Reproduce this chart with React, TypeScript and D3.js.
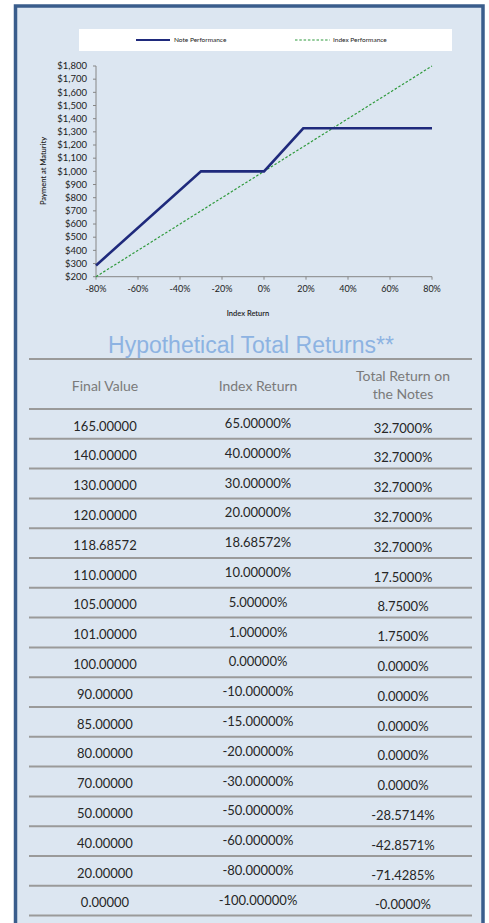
import React from "react";
import * as d3 from "d3";

// chart series: index return -> payment at maturity
const noteReturns = [-0.8, -0.3, 0, 0.1868572, 0.8];
const notePayments = [285.71, 1000, 1000, 1327, 1327];
const indexReturns = [-0.8, 0.8];
const indexPayments = [200, 1800];

const yTicks = [200, 300, 400, 500, 600, 700, 800, 900, 1000, 1100, 1200, 1300, 1400, 1500, 1600, 1700, 1800];
const xTicks = [-0.8, -0.6, -0.4, -0.2, 0, 0.2, 0.4, 0.6, 0.8];

// table
const headers = ["Final Value", "Index Return", "Total Return on|the Notes"];
const finalValues = ["165.00000", "140.00000", "130.00000", "120.00000", "118.68572", "110.00000", "105.00000", "101.00000", "100.00000", "90.00000", "85.00000", "80.00000", "70.00000", "50.00000", "40.00000", "20.00000", "0.00000"];
const indexReturnText = ["65.00000%", "40.00000%", "30.00000%", "20.00000%", "18.68572%", "10.00000%", "5.00000%", "1.00000%", "0.00000%", "-10.00000%", "-15.00000%", "-20.00000%", "-30.00000%", "-50.00000%", "-60.00000%", "-80.00000%", "-100.00000%"];
const noteReturnText = ["32.7000%", "32.7000%", "32.7000%", "32.7000%", "32.7000%", "17.5000%", "8.7500%", "1.7500%", "0.0000%", "0.0000%", "0.0000%", "0.0000%", "0.0000%", "-28.5714%", "-42.8571%", "-71.4285%", "-0.0000%"];

const W = 489;
const H = 923;

const App = () => {
  const x = d3.scaleLinear().domain([-0.8, 0.8]).range([96, 432]);
  const y = d3.scaleLinear().domain([200, 1800]).range([276.7, 66]);

  const line = d3
    .line<[number, number]>()
    .x((d) => x(d[0]))
    .y((d) => y(d[1]));

  const notePts = noteReturns.map((r, i) => [r, notePayments[i]] as [number, number]);
  const indexPts = indexReturns.map((r, i) => [r, indexPayments[i]] as [number, number]);

  const dollar = d3.format("$,");
  const pct = (v: number) => `${Math.round(v * 100)}%`;

  const tableTop = 409;
  const rowH = 29.8;
  const colX = [105, 258, 403];
  const colDy = [21.5, 19, 23.5];
  const columns = [finalValues, indexReturnText, noteReturnText];

  return (
    <svg width={W} height={H} style={{ position: "absolute", left: 0, top: 0, display: "block" }}>
      <rect x={0} y={0} width={W} height={H} fill="#ffffff" />
      {/* panel */}
      <rect x={15.5} y={6} width={467.5} height={H} fill="#dce6f1" stroke="#3a5d8c" strokeWidth={3.5} />

      {/* legend */}
      <rect x={79} y={29} width={373} height={22} fill="#ffffff" />
      <line x1={136} x2={170} y1={40} y2={40} stroke="#1f2a7c" strokeWidth={2.2} />
      <text x={174} y={42.3} fontSize={6.5} fontFamily="Lato, sans-serif" fill="#222">Note Performance</text>
      <line x1={295} x2={330} y1={40} y2={40} stroke="#2f9a3c" strokeWidth={1.2} strokeDasharray="2.5,1.8" />
      <text x={333} y={42.3} fontSize={6.5} fontFamily="Lato, sans-serif" fill="#222">Index Performance</text>

      {/* y axis */}
      <line x1={x(-0.8)} x2={x(-0.8)} y1={y(1800)} y2={y(200)} stroke="#868686" strokeWidth={1} />
      {yTicks.map((t) => (
        <g key={t}>
          <line x1={x(-0.8) - 3} x2={x(-0.8)} y1={y(t)} y2={y(t)} stroke="#868686" strokeWidth={1} />
          <text x={87} y={y(t) + 3.3} fontSize={9.5} textAnchor="end" fontFamily="Lato, sans-serif" fill="#222">
            {dollar(t)}
          </text>
        </g>
      ))}
      {/* x axis */}
      <line x1={x(-0.8)} x2={x(0.8)} y1={y(200)} y2={y(200)} stroke="#868686" strokeWidth={1} />
      {xTicks.map((t) => (
        <g key={t}>
          <line x1={x(t)} x2={x(t)} y1={y(200)} y2={y(200) + 3} stroke="#868686" strokeWidth={1} />
          <text x={x(t)} y={292} fontSize={9} textAnchor="middle" fontFamily="Lato, sans-serif" fill="#222">
            {pct(t)}
          </text>
        </g>
      ))}
      <text x={248} y={316} fontSize={7.5} fontWeight={600} textAnchor="middle" fontFamily="Lato, sans-serif" fill="#222">
        Index Return
      </text>
      <text
        transform="translate(46,171) rotate(-90)"
        fontSize={7.5}
        fontWeight={600}
        textAnchor="middle"
        fontFamily="Lato, sans-serif"
        fill="#222"
      >
        Payment at Maturity
      </text>

      {/* series */}
      <path d={line(indexPts) ?? ""} fill="none" stroke="#2f9a3c" strokeWidth={1.2} strokeDasharray="2.5,1.8" />
      <path d={line(notePts) ?? ""} fill="none" stroke="#1f2a7c" strokeWidth={2.6} strokeLinejoin="miter" />

      {/* title */}
      <text x={251} y={353} fontSize={23} textAnchor="middle" fontFamily="'Liberation Sans', Arial, sans-serif" fill="#8db3e2">
        Hypothetical Total Returns**
      </text>
      <line x1={29} x2={472} y1={359} y2={359} stroke="#9a9a9a" strokeWidth={2} />

      {/* header */}
      {headers.map((h, i) => {
        const parts = h.split("|");
        return (
          <text key={h} x={colX[i]} textAnchor="middle" fontSize={14} fontFamily="Lato, sans-serif" fill="#7a7a7a">
            {parts.length === 1 ? (
              <tspan x={colX[i]} y={391}>{h}</tspan>
            ) : (
              parts.map((p, k) => (
                <tspan key={p} x={colX[i]} y={381 + k * 18}>{p}</tspan>
              ))
            )}
          </text>
        );
      })}

      {/* rows */}
      {d3.range(finalValues.length + 1).map((i) => (
        <line key={"l" + i} x1={29} x2={472} y1={tableTop + i * rowH} y2={tableTop + i * rowH} stroke="#9a9a9a" strokeWidth={2} />
      ))}
      {finalValues.map((_, i) => (
        <g key={"r" + i}>
          {columns.map((col, c) => (
            <text key={c} x={colX[c]} y={tableTop + i * rowH + colDy[c]} textAnchor="middle" fontSize={13} fontFamily="Lato, sans-serif" fill="#262626">
              {col[i]}
            </text>
          ))}
        </g>
      ))}
    </svg>
  );
};

export default App;
